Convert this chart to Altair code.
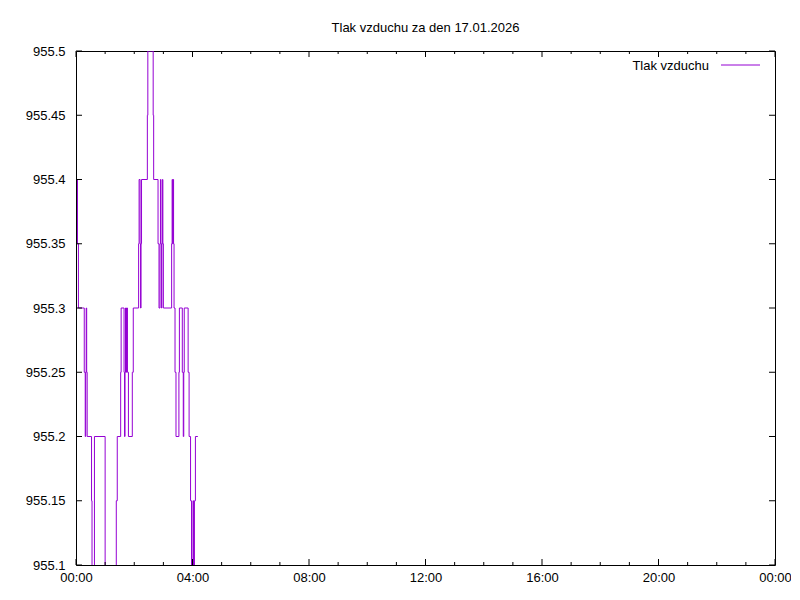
import altair as alt
import pandas as pd

# time of each reading (minutes after midnight) and pressure (hPa)
minutes = [0, 3, 5, 17, 19, 20, 21, 22, 23, 32, 33, 38, 60, 83, 85, 92, 93,
           99, 100, 101, 102, 103, 104, 106, 108, 116, 118, 129, 130, 132, 133,
           134, 135, 147, 148, 159, 160, 169, 171, 173, 174, 175, 176, 177, 178,
           179, 180, 197, 198, 199, 200, 201, 202, 204, 206, 212, 213, 219, 221,
           222, 223, 231, 233, 236, 238, 241, 242, 244, 246, 251]
pressure = [955.40, 955.35, 955.30, 955.25, 955.20, 955.25, 955.30, 955.25, 955.20,
            955.15, 955.05, 955.20, 955.05, 955.15, 955.20, 955.25, 955.30,
            955.25, 955.20, 955.25, 955.30, 955.25, 955.30, 955.25, 955.20, 955.25,
            955.30, 955.35, 955.40, 955.35, 955.30, 955.35, 955.40, 955.45, 955.50,
            955.45, 955.40, 955.35, 955.30, 955.35, 955.40, 955.35, 955.30, 955.35,
            955.40, 955.35, 955.30, 955.35, 955.40, 955.35, 955.40, 955.35, 955.30,
            955.25, 955.20, 955.25, 955.30, 955.25, 955.20, 955.25, 955.30, 955.25,
            955.20, 955.15, 955.05, 955.15, 955.05, 955.15, 955.20, 955.20]

x_major = [0, 4, 8, 12, 16, 20, 24]
x_minor = [1, 2, 3, 5, 6, 7, 9, 10, 11, 13, 14, 15, 17, 18, 19, 21, 22, 23]
y_ticks = [955.1, 955.15, 955.2, 955.25, 955.3, 955.35, 955.4, 955.45, 955.5]

title_text = "Tlak vzduchu za den 17.01.2026"
series_name = "Tlak vzduchu"

W, H = 699, 514
FONT = "Liberation Sans"
FS = 13
PURPLE = "#9400d3"

df = pd.DataFrame({"h": [m / 60 for m in minutes], "p": pressure})
xmaj = pd.DataFrame({"h": x_major})
xmin = pd.DataFrame({"h": x_minor})
yt = pd.DataFrame({"p": y_ticks})

xscale = alt.Scale(domain=[0, 24], nice=False, zero=False)
yscale = alt.Scale(domain=[955.1, 955.5], nice=False, zero=False)

xaxis = alt.Axis(values=x_major, title=None,
                 labelExpr="(datum.value % 24 < 10 ? '0' : '') + (datum.value % 24) + ':00'",
                 ticks=False, tickSize=0, domain=False, grid=False,
                 labelPadding=6, labelFlush=False)
yaxis = alt.Axis(values=y_ticks, title=None, format=".6~g", ticks=False, tickSize=0,
                 domain=False, grid=False, labelPadding=11)

X = lambda: alt.X("h:Q", scale=xscale, axis=xaxis, title=None)
Y = lambda: alt.Y("p:Q", scale=yscale, axis=yaxis, title=None)

line = alt.Chart(df).mark_line(
    interpolate="step-after", color=PURPLE, strokeWidth=1, clip=True
).encode(x=X(), y=Y())

def xrule(data, y0, y1):
    return alt.Chart(data).mark_rule(color="black", strokeWidth=1).encode(
        x=X(), y=alt.value(y0), y2=alt.value(y1))

def yrule(x0, x1):
    return alt.Chart(yt).mark_rule(color="black", strokeWidth=1).encode(
        y=Y(), x=alt.value(x0), x2=alt.value(x1))

ticks = [
    xrule(xmaj, 0, 6), xrule(xmaj, H, H - 6),
    xrule(xmin, 0, 3), xrule(xmin, H, H - 3),
    yrule(0, 6), yrule(W, W - 6),
]

legend_text = alt.Chart(pd.DataFrame({"label": [series_name]})).mark_text(
    align="right", baseline="middle", font=FONT, fontSize=FS, color="black"
).encode(x=alt.value(633), y=alt.value(15), text="label:N")

legend_line = alt.Chart(pd.DataFrame({"label": [series_name]})).mark_rule(
    color=PURPLE, strokeWidth=1
).encode(x=alt.value(645), x2=alt.value(684), y=alt.value(14))

chart = alt.layer(line, *ticks, legend_text, legend_line).properties(
    width=W, height=H,
    title=alt.TitleParams(title_text, font=FONT, fontSize=FS, fontWeight="normal",
                          color="black", anchor="middle", offset=10),
    autosize=alt.AutoSizeParams(type="none"),
    padding={"left": 68, "top": 43, "right": 16, "bottom": 25},
    background="white",
).configure_view(stroke="black", strokeWidth=1).configure_axis(
    labelFont=FONT, labelFontSize=FS, labelColor="black"
)

chart.save("out.html", embed_options={"renderer": "svg", "actions": False})
